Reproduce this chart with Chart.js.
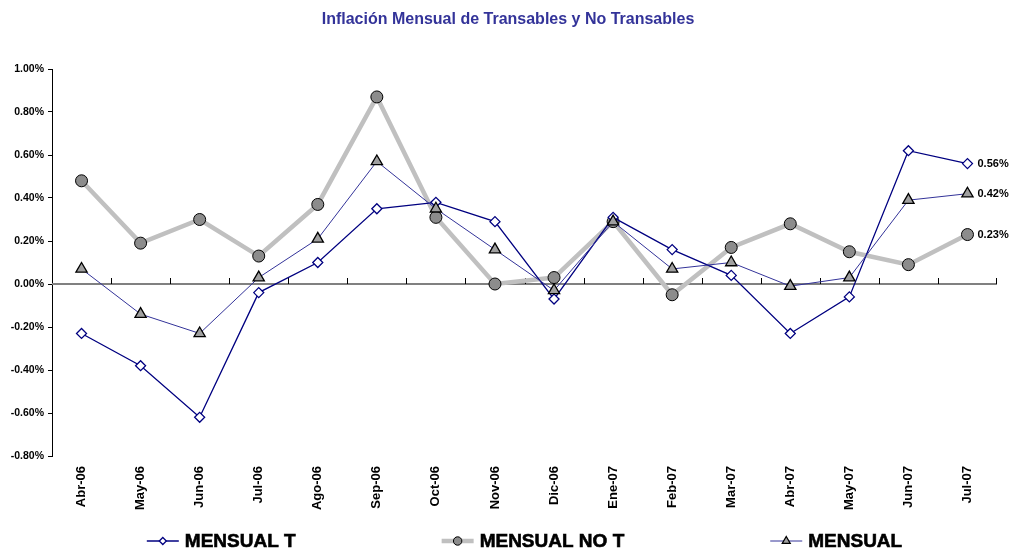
<!DOCTYPE html>
<html>
<head>
<meta charset="utf-8">
<script src="https://cdn.jsdelivr.net/npm/chart.js@4/dist/chart.umd.min.js"></script>
<style>
  html, body { margin: 0; padding: 0; background: #fff; }
  #wrap { width: 1014px; height: 552px; }
</style>
</head>
<body>
<div id="wrap"><canvas id="chart" width="1014" height="552"></canvas></div>
<script>
const months = ["Abr-06", "May-06", "Jun-06", "Jul-06", "Ago-06", "Sep-06", "Oct-06", "Nov-06",
  "Dic-06", "Ene-07", "Feb-07", "Mar-07", "Abr-07", "May-07", "Jun-07", "Jul-07"];

// monthly inflation, in percent
const mensualT = [-0.23, -0.38, -0.62, -0.04, 0.10, 0.35, 0.38, 0.29,
  -0.07, 0.31, 0.16, 0.04, -0.23, -0.06, 0.62, 0.56];
const mensualNoT = [0.48, 0.19, 0.30, 0.13, 0.37, 0.87, 0.31, 0.00,
  0.03, 0.29, -0.05, 0.17, 0.28, 0.15, 0.09, 0.23];
const mensual = [0.07, -0.14, -0.23, 0.03, 0.21, 0.57, 0.35, 0.16,
  -0.03, 0.29, 0.07, 0.10, -0.01, 0.03, 0.39, 0.42];

const yMin = -0.8;
const yMax = 1.0;
const yStep = 0.2;

const TITLE = "Inflación Mensual de Transables y No Transables";
const FONT = "'Liberation Sans', Arial, sans-serif";

// title centred on the whole canvas
const pageTitle = {
  id: "pageTitle",
  afterDraw(chart) {
    const { ctx } = chart;
    ctx.save();
    ctx.font = "bold 16px " + FONT;
    ctx.fillStyle = "#333399";
    ctx.textAlign = "center";
    ctx.textBaseline = "middle";
    ctx.fillText(TITLE, chart.width / 2 + 1, 20);
    ctx.restore();
  }
};

// zero line with category ticks (the x axis crosses at 0)
const zeroAxis = {
  id: "zeroAxis",
  beforeDatasetsDraw(chart) {
    const { ctx, chartArea, scales } = chart;
    const y0 = scales.y.getPixelForValue(0);
    ctx.save();
    ctx.strokeStyle = "#808080";
    ctx.lineWidth = 2;
    ctx.beginPath();
    ctx.moveTo(chartArea.left, y0);
    ctx.lineTo(chartArea.right, y0);
    ctx.stroke();
    ctx.lineWidth = 1;
    ctx.strokeStyle = "#000";
    const n = months.length;
    for (let i = 1; i <= n; i++) {
      const x = Math.round((scales.x.getPixelForValue(i - 1) + scales.x.getPixelForValue(i)) / 2) + 0.5;
      const xx = i === n ? Math.round(chartArea.right) - 0.5 : x;
      ctx.beginPath();
      ctx.moveTo(xx, y0 - 6);
      ctx.lineTo(xx, y0);
      ctx.stroke();
    }
    ctx.restore();
  }
};

// value labels at the last point of each series
const lastLabels = {
  id: "lastLabels",
  afterDatasetsDraw(chart) {
    const { ctx } = chart;
    ctx.save();
    ctx.font = "bold 11px " + FONT;
    ctx.fillStyle = "#000";
    ctx.textAlign = "left";
    ctx.textBaseline = "middle";
    chart.data.datasets.forEach((ds, i) => {
      const meta = chart.getDatasetMeta(i);
      const pt = meta.data[meta.data.length - 1];
      const v = ds.data[ds.data.length - 1];
      ctx.fillText(v.toFixed(2) + "%", pt.x + 10, pt.y);
    });
    ctx.restore();
  }
};

// legend: line + marker, wide gaps, centred under the plot
const lineLegend = {
  id: "lineLegend",
  afterDraw(chart) {
    const { ctx, chartArea } = chart;
    const gap = 146;
    const mark = 32;
    const textGap = 6;
    const y = 541;
    ctx.save();
    ctx.font = "bold 19px " + FONT;
    const items = chart.data.datasets.map((ds) => ({ ds, w: ctx.measureText(ds.label).width }));
    const total = items.reduce((a, it) => a + mark + textGap + it.w, 0) + gap * (items.length - 1);
    let x = (chartArea.left + chartArea.right) / 2 - total / 2;
    for (const it of items) {
      const ds = it.ds;
      ctx.strokeStyle = ds.borderColor;
      ctx.lineWidth = ds.borderWidth;
      ctx.beginPath();
      ctx.moveTo(x, y);
      ctx.lineTo(x + mark, y);
      ctx.stroke();
      ctx.fillStyle = ds.pointBackgroundColor;
      ctx.strokeStyle = ds.pointBorderColor;
      ctx.lineWidth = ds.pointBorderWidth;
      Chart.helpers.drawPoint(ctx, {
        pointStyle: ds.pointStyle,
        radius: ds.pointRadius * 0.7,
        rotation: 0,
        borderWidth: ds.pointBorderWidth
      }, x + mark / 2, y);
      ctx.fillStyle = "#000";
      ctx.strokeStyle = "#000";
      ctx.lineWidth = 0.6;
      ctx.textAlign = "left";
      ctx.textBaseline = "middle";
      ctx.fillText(ds.label, x + mark + textGap, y + 1);
      ctx.strokeText(ds.label, x + mark + textGap, y + 1);
      x += mark + textGap + it.w + gap;
    }
    ctx.restore();
  }
};

new Chart(document.getElementById("chart"), {
  type: "line",
  data: {
    labels: months,
    datasets: [
      {
        label: "MENSUAL T",
        data: mensualT,
        borderColor: "#000080",
        borderWidth: 1.3,
        pointStyle: "rectRot",
        pointRadius: 5,
        pointBackgroundColor: "#ffffff",
        pointBorderColor: "#000080",
        pointBorderWidth: 1.3,
        order: 2
      },
      {
        label: "MENSUAL NO T",
        data: mensualNoT,
        borderColor: "#c0c0c0",
        borderWidth: 4.5,
        pointStyle: "circle",
        pointRadius: 6,
        pointBackgroundColor: "#8c8c8c",
        pointBorderColor: "#000000",
        pointBorderWidth: 1,
        order: 3
      },
      {
        label: "MENSUAL",
        data: mensual,
        borderColor: "#333399",
        borderWidth: 1,
        pointStyle: "triangle",
        pointRadius: 6.5,
        pointBackgroundColor: "#a0a0a0",
        pointBorderColor: "#000000",
        pointBorderWidth: 1.3,
        order: 1
      }
    ]
  },
  options: {
    responsive: false,
    animation: false,
    layout: { padding: { left: 0, right: 17, top: 69, bottom: 30 } },
    plugins: {
      legend: { display: false },
      tooltip: { enabled: false },
      title: { display: false }
    },
    elements: { line: { tension: 0 } },
    scales: {
      x: {
        offset: true,
        grid: { display: false },
        border: { display: false },
        ticks: {
          color: "#000",
          font: { family: FONT, size: 13, weight: "bold" },
          minRotation: 90,
          maxRotation: 90,
          padding: 2,
          autoSkip: false
        },
        afterFit: (scale) => { scale.height = 552 - 456 - 30; }
      },
      y: {
        min: yMin,
        max: yMax,
        grid: { display: true, drawOnChartArea: false, drawTicks: true, tickLength: 4, color: "#000" },
        border: { display: true, color: "#000", width: 1 },
        ticks: {
          stepSize: yStep,
          color: "#000",
          padding: 4,
          font: { family: FONT, size: 10.5, weight: "bold" },
          callback: (v) => v.toFixed(2) + "%"
        },
        afterFit: (scale) => { scale.width = 52; }
      }
    }
  },
  plugins: [pageTitle, zeroAxis, lastLabels, lineLegend]
});
</script>
</body>
</html>
